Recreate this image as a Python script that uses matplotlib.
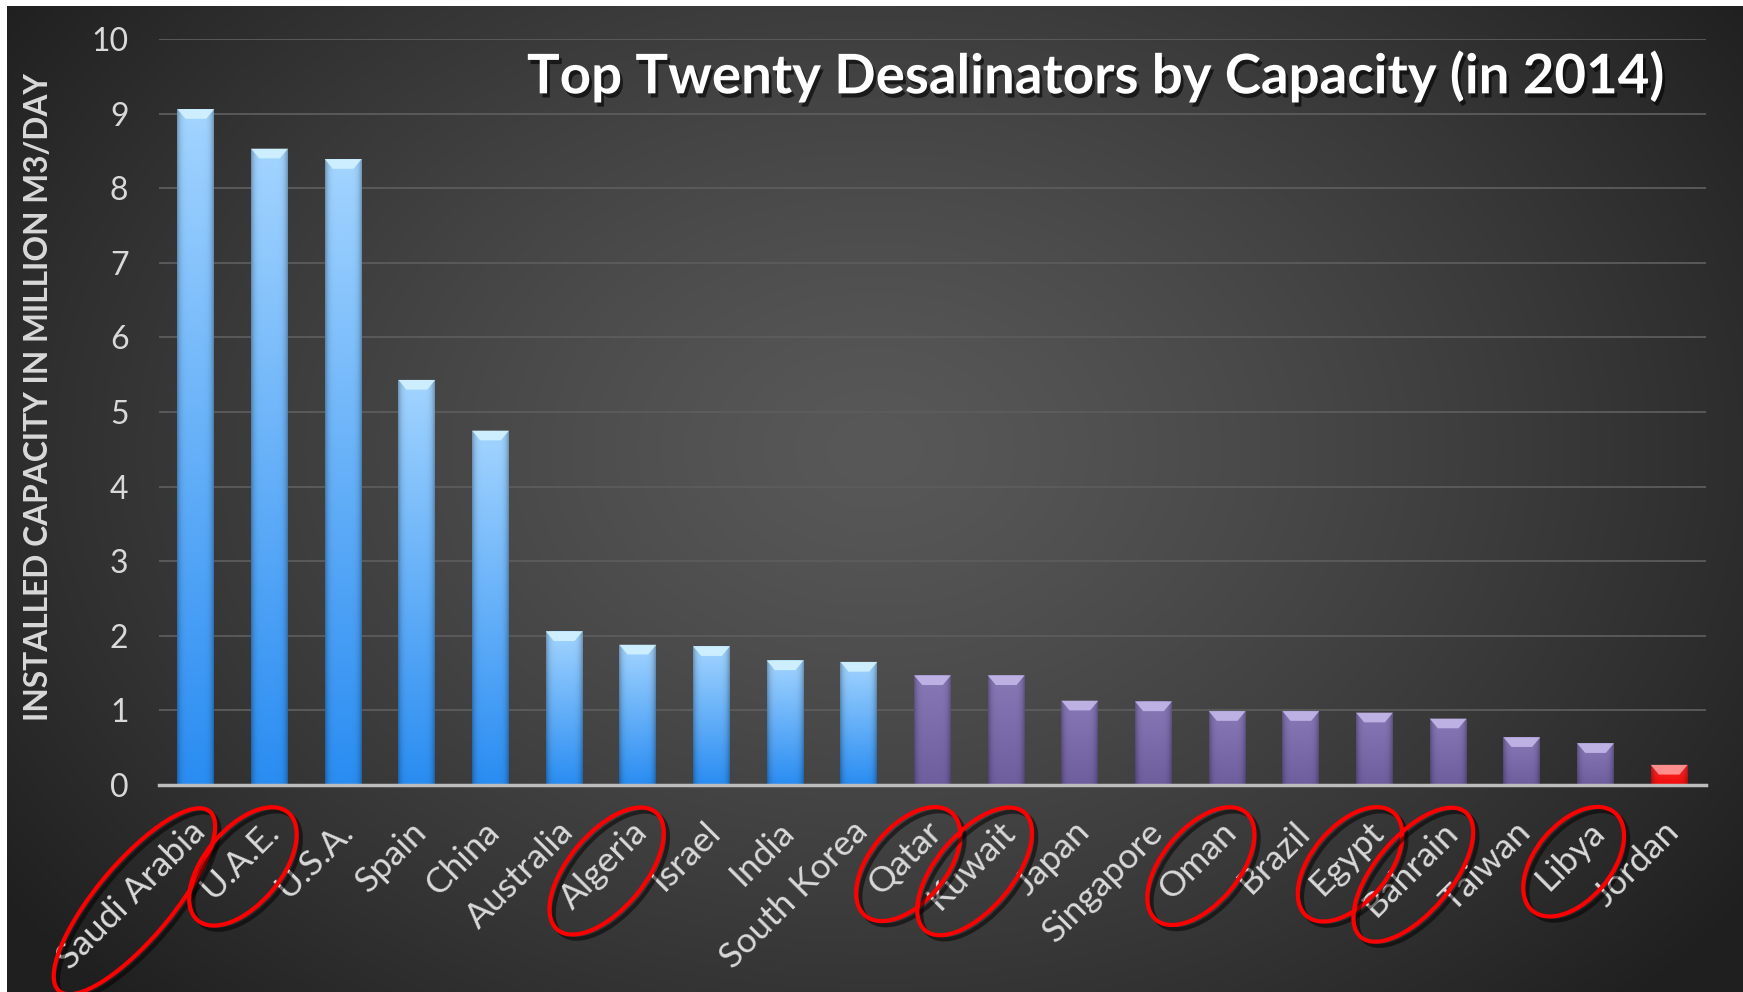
import numpy as np
import matplotlib
matplotlib.use('Agg')
import matplotlib.pyplot as plt
from matplotlib.patches import Ellipse, Polygon
from matplotlib.colors import to_rgb
import matplotlib.patheffects as pe
from matplotlib.transforms import ScaledTranslation, IdentityTransform

countries = ['Saudi Arabia', 'U.A.E.', 'U.S.A.', 'Spain', 'China', 'Australia',
             'Algeria', 'Israel', 'India', 'South Korea', 'Qatar', 'Kuwait',
             'Japan', 'Singapore', 'Oman', 'Brazil', 'Egypt', 'Bahrain',
             'Taiwan', 'Libya', 'Jordan']
capacity = [9.06, 8.53, 8.39, 5.43, 4.75, 2.06, 1.88, 1.86, 1.67, 1.65, 1.47,
            1.47, 1.13, 1.12, 0.99, 0.99, 0.97, 0.89, 0.64, 0.56, 0.27]
group = ['blue'] * 10 + ['purple'] * 10 + ['red']
circled = ['Saudi Arabia', 'U.A.E.', 'Algeria', 'Qatar', 'Kuwait', 'Oman',
           'Egypt', 'Bahrain', 'Libya']
yticks = list(range(0, 11))

title = 'Top Twenty Desalinators by Capacity (in 2014)'
ylabel = 'INSTALLED CAPACITY IN MILLION M3/DAY'

FONT = ['Lato', 'DejaVu Sans']
plt.rcParams['font.family'] = FONT

grad = {
    'blue': ('#a2d4ff', '#2a8df2'),
    'purple': ('#8878b6', '#6f5e9e'),
    'red': ('#ff2a2a', '#f00c0c'),
}
cap_col = {'blue': '#d2f2ff', 'purple': '#c4b8ea', 'red': '#ff9a9a'}

W, H = 1743, 992
fig = plt.figure(figsize=(W / 100, H / 100), dpi=100)
fig.patch.set_facecolor('white')

# background radial gradient
bg = fig.add_axes([0.004, 0, 0.996, 0.994])
bg.axis('off')
yy, xx = np.mgrid[0:1:300j, 0:1:500j]
d = np.sqrt(((xx - 0.5) / 0.62) ** 2 + ((yy - 0.55) / 0.8) ** 2)
v = (0x58 - (0x58 - 0x1f) * np.clip(d, 0, 1) ** 1.3) / 255
bg.imshow(np.dstack([v, v, v]), extent=(0, 1, 0, 1), aspect='auto',
          origin='lower', interpolation='bilinear')
bg.set_xlim(0, 1); bg.set_ylim(0, 1)

ax = fig.add_axes([159 / W, 1 - 785 / H, (1706 - 159) / W, (785 - 39) / H])
ax.set_facecolor('none')
n = len(countries)
x = np.arange(n)
bars = ax.bar(x, capacity, width=0.5, color=[grad[g][1] for g in group],
              zorder=3, linewidth=0)

ny, nx = 64, 32
s = np.abs(np.linspace(-1, 1, nx))
edge = 1 - 0.28 * s ** 6
for b, g in zip(bars, group):
    x0, w, h = b.get_x(), b.get_width(), b.get_height()
    top, bot = np.array(to_rgb(grad[g][0])), np.array(to_rgb(grad[g][1]))
    t = np.linspace(0, 1, ny)[:, None, None]
    img = top * (1 - t) + bot * t
    img = img * edge[None, :, None]
    img = np.clip(img, 0, 1)
    im = ax.imshow(img, extent=(x0, x0 + w, 0, h), aspect='auto', zorder=3.5,
                   interpolation='bilinear')
    im.set_clip_path(b)
    hc = 0.13
    ins = w * 0.22
    cap = Polygon([(x0, h), (x0 + w, h), (x0 + w - ins, h - hc), (x0 + ins, h - hc)],
                  closed=True, fc=cap_col[g], ec='none', zorder=4, alpha=0.9)
    ax.add_patch(cap)

ax.set_xlim(-0.5, n - 0.5)
ax.set_ylim(0, 10)
ax.set_yticks(yticks)
ax.yaxis.grid(True, color='#5c5c5c', lw=1.3)
ax.set_axisbelow(True)
for sp in ['top', 'right', 'left']:
    ax.spines[sp].set_visible(False)
ax.spines['bottom'].set_color('#bdbdbd')
ax.spines['bottom'].set_linewidth(2.5)
ax.spines['bottom'].set_zorder(5)
ax.tick_params(axis='y', length=0, pad=22, labelsize=23, labelcolor='#d9d9d9')
ax.tick_params(axis='x', length=0, pad=30, labelsize=25.5, labelcolor='#d9d9d9')
ax.set_xticks(x)
ax.set_xticklabels(countries, rotation=45, ha='right', va='center',
                   rotation_mode='anchor')
for lbl in ax.get_xticklabels():
    lbl.set_transform(lbl.get_transform() + ScaledTranslation(3 / 72, 0, fig.dpi_scale_trans))

fig.text(39 / W, 1 - 397 / H, ylabel, rotation=90, ha='center', va='center',
         fontsize=22.9, fontweight='bold', color='#d9d9d9')
fig.text(1096 / W, 1 - 76 / H, title, ha='center', va='center', fontsize=39.3,
         fontweight='bold', color='white',
         path_effects=[pe.withSimplePatchShadow(offset=(2, -3), shadow_rgbFace='black', alpha=0.6)])

fig.canvas.draw()
renderer = fig.canvas.get_renderer()
for lbl in ax.get_xticklabels():
    txt = lbl.get_text()
    if txt not in circled:
        continue
    bb = lbl.get_window_extent(renderer)
    cx, cy = (bb.x0 + bb.x1) / 2 + 3, (bb.y0 + bb.y1) / 2 - 6
    L, Ht, _ = renderer.get_text_width_height_descent(txt, lbl.get_fontproperties(), ismath=False)
    e = Ellipse((cx, cy), width=L * 0.95 + 50, height=76, angle=50,
                transform=IdentityTransform(), fill=False, ec='#ff0000', lw=3,
                zorder=10,
                path_effects=[pe.SimpleLineShadow(offset=(3, -3), shadow_color='black', alpha=0.5),
                              pe.Normal()])
    fig.add_artist(e)

fig.savefig('out.png', dpi=100, facecolor=fig.get_facecolor())
